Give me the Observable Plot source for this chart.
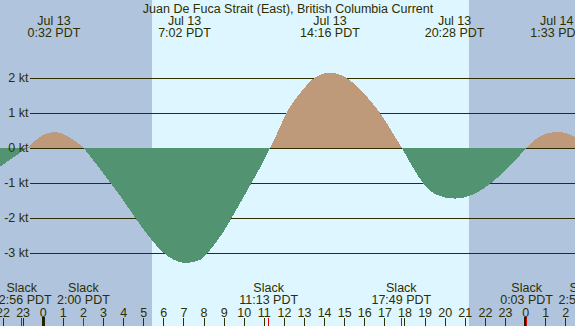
<!DOCTYPE html>
<html>
<head>
<meta charset="utf-8">
<script src="https://cdn.jsdelivr.net/npm/d3@7"></script>
<script src="https://cdn.jsdelivr.net/npm/@observablehq/plot@0.6"></script>
<style>
  html, body { margin: 0; padding: 0; background: #ffffff; }
  #chart svg { display: block; }
</style>
</head>
<body>
<div id="chart"></div>
<script>
// ---- data ----
const title = "Juan De Fuca Strait (East), British Columbia Current";

// current curve (hours from Jul 13 00:00 PDT, knots)
const curveHours = [-2.124, -1.5, -0.75, -0.3, 0, 0.53, 1.0, 1.5, 2.02, 2.7, 3.35, 4.0, 4.59, 5.3, 6.0, 6.5, 7.03, 7.8, 8.5, 9.0, 9.48, 10.4, 10.9, 11.31, 11.7, 12.14, 12.8, 13.55, 14.29, 15.09, 15.8, 16.5, 17.0, 17.3, 17.86, 18.4, 18.9, 19.6, 20.51, 21.4, 22.34, 23.2, 24.08, 24.6, 25.1, 25.6, 26.1, 26.48];
const curveKnots = [-0.55, -0.3, 0, 0.23, 0.35, 0.44, 0.39, 0.23, 0, -0.5, -1.0, -1.5, -2.0, -2.55, -3.0, -3.2, -3.30, -3.22, -2.8, -2.4, -1.93, -1.0, -0.48, 0, 0.45, 1.0, 1.55, 2.0, 2.14, 2.0, 1.65, 1.2, 0.8, 0.52, 0, -0.55, -1.0, -1.35, -1.46, -1.35, -1.0, -0.55, 0, 0.27, 0.40, 0.44, 0.40, 0.30];

// max/min current labels (top)
const peakDates = ["Jul 13", "Jul 13", "Jul 13", "Jul 13", "Jul 14"];
const peakTimes = ["0:32", "7:02", "14:16", "20:28", "1:33"];
const peakDayOffset = [0, 0, 0, 0, 1];

// slack labels (bottom)
const slackTimes = ["22:56", "2:00", "11:13", "17:49", "0:03", "2:57"];
const slackDayOffset = [-1, 0, 0, 0, 1, 1];

// sunrise / sunset (hours, Jul 13)
const sunrise = 5.42;
const sunset = 21.21;

// y gridlines (knots)
const gridKnots = [2, 1, 0, -1, -2, -3];

// hour ticks and their labels
const hourTicks = [-2, -1, 0, 1, 2, 3, 4, 5, 6, 7, 8, 9, 10, 11, 12, 13, 14, 15, 16, 17, 18, 19, 20, 21, 22, 23, 24, 25, 26];
const hourLabels = ["22", "23", "0", "1", "2", "3", "4", "5", "6", "7", "8", "9", "10", "11", "12", "13", "14", "15", "16", "17", "18", "19", "20", "21", "22", "23", "0", "1", "2"];
const midnights = [0, 24];

// ---- derived ----
const toHours = (t, off) => { const [hh, mm] = t.split(":").map(Number); return hh + mm / 60 + 24 * off; };
const peaks = peakTimes.map((t, i) => ({h: toHours(t, peakDayOffset[i]), label: `${peakDates[i]}\n${t} PDT`}));
const slacks = slackTimes.map((t, i) => ({h: toHours(t, slackDayOffset[i]), label: `Slack\n${t} PDT`}));

const X0 = -2.1244, X1 = 26.4826;
const Y0 = -5.1, Y1 = 4.2143;

const pts = curveHours.map((h, i) => ({h, v: curveKnots[i]}));
const segs = [];
let cur = [];
pts.forEach(p => { cur.push(p); if (p.v === 0 && cur.length > 1) { segs.push(cur); cur = [p]; } });
if (cur.length > 1) segs.push(cur);
const rows = segs.flatMap((s, k) => {
  const sign = d3.sum(s, d => d.v) > 0 ? "flood" : "ebb";
  return s.map(d => ({...d, seg: k, sign}));
});
const flood = rows.filter(d => d.sign === "flood");
const ebb = rows.filter(d => d.sign === "ebb");

const nights = [{x1: X0, x2: sunrise}, {x1: sunset, x2: X1}];

const ink = "#2E2E00";
const dayColor = "#DEF6FF";
const nightColor = "#B0C4DE";
const floodColor = "#BE9A7A";
const ebbColor = "#529472";

const chart = Plot.plot({
  width: 575,
  height: 326,
  margin: 0,
  x: {domain: [X0, X1], axis: null},
  y: {domain: [Y0, Y1], axis: null},
  style: {fontFamily: "'Liberation Sans', Arial, sans-serif", fontSize: "12.5px", background: dayColor, color: ink},
  marks: [
    Plot.frame({fill: dayColor, stroke: null}),
    Plot.rect(nights, {x1: "x1", x2: "x2", y1: () => Y0, y2: () => Y1, fill: nightColor, shapeRendering: "crispEdges"}),
    Plot.ruleY(gridKnots, {y: d => d, x1: () => -0.632, x2: () => X1, stroke: ink, strokeWidth: 1, shapeRendering: "crispEdges"}),
    Plot.areaY(flood, {x: "h", y1: () => 0, y2: "v", z: "seg", fill: floodColor, curve: "monotone-x", shapeRendering: "crispEdges"}),
    Plot.areaY(ebb, {x: "h", y1: () => 0, y2: "v", z: "seg", fill: ebbColor, curve: "monotone-x", shapeRendering: "crispEdges"}),
    Plot.text(gridKnots, {x: () => -0.731, y: d => d, text: d => `${d} kt`, textAnchor: "end", fill: ink}),
    Plot.text([title], {text: d => d, frameAnchor: "top", lineAnchor: "bottom", dy: 12, fill: ink}),
    Plot.text(peaks, {x: "h", text: "label", frameAnchor: "top", lineAnchor: "bottom", lineHeight: 0.96, dy: 36, fill: ink}),
    Plot.text(slacks, {x: "h", text: "label", frameAnchor: "top", lineAnchor: "bottom", lineHeight: 1.0, dy: 303.5, fill: ink}),
    Plot.text(hourTicks, {x: d => d, text: (d, i) => hourLabels[i], frameAnchor: "top", lineAnchor: "bottom", dy: 316, fill: ink}),
    Plot.ruleX(hourTicks, {x: d => d, insetTop: 318, stroke: ink, shapeRendering: "crispEdges"}),
    Plot.ruleX(midnights, {x: d => d, insetTop: 317, stroke: "#222200", strokeWidth: 3, shapeRendering: "crispEdges"}),
    Plot.ruleX(slacks, {x: "h", insetTop: 318, stroke: "#E00000", shapeRendering: "crispEdges"})
  ]
});
document.getElementById("chart").appendChild(chart);
</script>
</body>
</html>
